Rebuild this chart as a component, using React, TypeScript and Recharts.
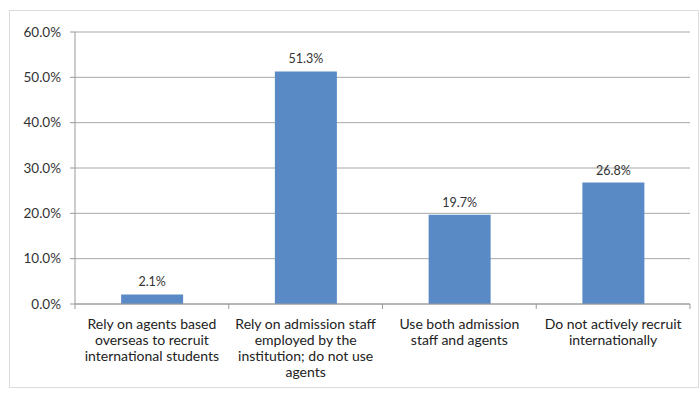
import { BarChart, Bar, XAxis, YAxis, CartesianGrid, LabelList } from "recharts";

const categories = [
  "Rely on agents based\noverseas to recruit\ninternational students",
  "Rely on admission staff\nemployed by the\ninstitution; do not use\nagents",
  "Use both admission\nstaff and agents",
  "Do not actively recruit\ninternationally",
];
const shares = [2.1, 51.3, 19.7, 26.8];
const yTicks = [0, 10, 20, 30, 40, 50, 60];

const data = categories.map((label, i) => ({ label, value: shares[i] }));

const FONT = "Lato, 'Open Sans', sans-serif";
const PLOT_WIDTH = 615;

// wrapped category label plus an Excel-style tick mark at the left edge of the band
function CategoryTick(props: any) {
  const { x, y, payload, index } = props;
  const lines = String(payload.value).split("\n");
  const band = PLOT_WIDTH / categories.length;
  const left = x - band / 2;
  return (
    <g>
      <line x1={left} x2={left} y1={y - 8} y2={y - 3} stroke="#9a9a9a" />
      {index === categories.length - 1 && (
        <line x1={left + band} x2={left + band} y1={y - 8} y2={y - 3} stroke="#9a9a9a" />
      )}
      <text x={x} y={y} textAnchor="middle" fontSize={14} fill="#222" fontFamily={FONT}>
        {lines.map((ln, i) => (
          <tspan key={i} x={x} dy={i === 0 ? 17 : 16}>
            {ln}
          </tspan>
        ))}
      </text>
    </g>
  );
}

export default function App() {
  return (
    <div style={{ position: "absolute", left: 0, top: 0, width: 700, height: 398, background: "#fff" }}>
      <div
        style={{
          position: "absolute",
          left: 9,
          top: 10,
          width: 690,
          height: 378,
          border: "1px solid #dcdcdc",
          boxSizing: "border-box",
        }}
      />
      <BarChart
        width={700}
        height={398}
        data={data}
        margin={{ top: 32, right: 10, bottom: 0, left: 10 }}
        barCategoryGap="30%"
      >
        <CartesianGrid vertical={false} stroke="#a8a8a8" />
        <XAxis
          dataKey="label"
          interval={0}
          height={94}
          tickLine={false}
          axisLine={{ stroke: "#9a9a9a" }}
          tick={<CategoryTick />}
        />
        <YAxis
          width={65}
          domain={[0, 60]}
          ticks={yTicks}
          tickFormatter={(v: number) => `${v.toFixed(1)}%`}
          tick={{ fontSize: 13.5, fill: "#333", fontFamily: FONT }}
          tickLine={{ stroke: "#9a9a9a" }}
          tickSize={5}
          tickMargin={9}
          axisLine={{ stroke: "#9a9a9a" }}
        />
        <Bar dataKey="value" fill="#5A8AC6" isAnimationActive={false}>
          <LabelList
            dataKey="value"
            position="top"
            offset={8}
            formatter={(v: any) => `${Number(v).toFixed(1)}%`}
            style={{ fontSize: 12.5, fill: "#333", fontFamily: FONT }}
          />
        </Bar>
      </BarChart>
    </div>
  );
}
